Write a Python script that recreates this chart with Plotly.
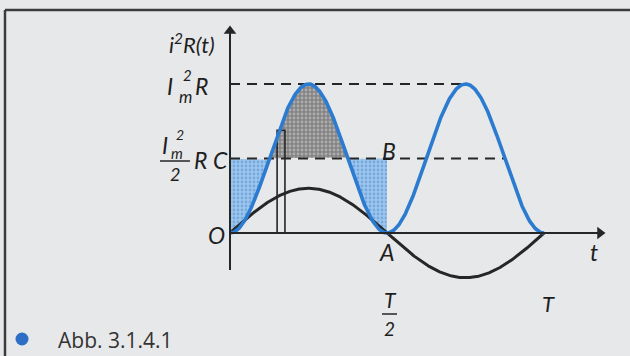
import numpy as np
import plotly.graph_objects as go

# Instantaneous power in a resistor, p(t) = i^2 R = I_m^2 R sin^2(wt)
T = 1.0                 # period of the current
P_PEAK = 1.0            # I_m^2 R
P_MEAN = P_PEAK / 2     # I_m^2 R / 2 (line C-B)
I_AMP = 0.3             # drawn amplitude of the current i(t)
STRIP = [0.15, 0.175]   # narrow strip p(t) dt
STRIP_H = 0.69

t = np.linspace(0, T, 600)
power = P_PEAK * np.sin(2 * np.pi * t / T) ** 2
current = I_AMP * np.sin(2 * np.pi * t / T)

# canvas: map pixels <-> data so that O sits at (230, 233)
W, H = 630, 356
X0, XS = 230, 314       # px of t=0, px per period
Y0, YS = 233, 149       # px of p=0, px per unit


def px_x(p):
    return (p - X0) / XS


def px_y(p):
    return (Y0 - p) / YS


BLUE = "#2b7bd0"
INK = "#262626"
BG = "#e7e8ea"
FONT = "Lato"

fig = go.Figure()

# blue dotted regions under the mean line, grey one above it
q = T / 8
m1 = t <= q
m2 = (t >= 3 * q) & (t <= T / 2)
m3 = (t >= q) & (t <= 3 * q)
blue_pat = dict(shape=".", bgcolor="#9ec6ec", fgcolor="#4a8ad0", size=4, solidity=0.4)
gray_pat = dict(shape=".", bgcolor="#848484", fgcolor="#d6d6d6", size=4, solidity=0.4)

fig.add_trace(go.Scatter(
    x=np.concatenate([[0], t[m1]]), y=np.concatenate([[P_MEAN], power[m1]]),
    fill="toself", fillpattern=blue_pat, fillcolor="#9ec6ec", line=dict(width=0),
    mode="lines", hoverinfo="skip", showlegend=False))
fig.add_trace(go.Scatter(
    x=np.concatenate([t[m2], [T / 2]]), y=np.concatenate([power[m2], [P_MEAN]]),
    fill="toself", fillpattern=blue_pat, fillcolor="#9ec6ec", line=dict(width=0),
    mode="lines", hoverinfo="skip", showlegend=False))
fig.add_trace(go.Scatter(
    x=t[m3], y=power[m3],
    fill="toself", fillpattern=gray_pat, fillcolor="#848484", line=dict(width=0),
    mode="lines", hoverinfo="skip", showlegend=False))

# dashed reference lines from the axis to the curve
fig.add_trace(go.Scatter(x=[0, 0.75 * T], y=[P_PEAK, P_PEAK], mode="lines",
                         line=dict(color=INK, width=2, dash="10px,7px"),
                         hoverinfo="skip", showlegend=False))
fig.add_trace(go.Scatter(x=[0, 0.875 * T], y=[P_MEAN, P_MEAN], mode="lines",
                         line=dict(color=INK, width=2, dash="10px,7px"),
                         hoverinfo="skip", showlegend=False))

# strip
fig.add_trace(go.Scatter(x=[STRIP[0], STRIP[0], STRIP[1], STRIP[1]],
                         y=[0, STRIP_H, STRIP_H, 0], mode="lines",
                         line=dict(color=INK, width=1.6),
                         hoverinfo="skip", showlegend=False))

# curves
fig.add_trace(go.Scatter(x=t, y=current, mode="lines",
                         line=dict(color=INK, width=3), hoverinfo="skip", showlegend=False))
fig.add_trace(go.Scatter(x=t, y=power, mode="lines",
                         line=dict(color=BLUE, width=3.6), hoverinfo="skip", showlegend=False))

# axes: shafts and arrowheads
fig.add_trace(go.Scatter(x=[0, 0], y=[px_y(270), px_y(32)], mode="lines",
                         line=dict(color=INK, width=2), hoverinfo="skip", showlegend=False))
fig.add_trace(go.Scatter(x=[0, px_x(598)], y=[0, 0], mode="lines",
                         line=dict(color=INK, width=2), hoverinfo="skip", showlegend=False))
fig.add_trace(go.Scatter(x=[0], y=[px_y(31)], mode="markers",
                         marker=dict(symbol="triangle-up", size=11, color=INK),
                         hoverinfo="skip", showlegend=False))
fig.add_trace(go.Scatter(x=[px_x(600)], y=[0], mode="markers",
                         marker=dict(symbol="triangle-right", size=11, color=INK),
                         hoverinfo="skip", showlegend=False))

# caption bullet
fig.add_trace(go.Scatter(x=[px_x(22)], y=[px_y(339)], mode="markers",
                         marker=dict(color="#2c6fc4", size=13), hoverinfo="skip",
                         showlegend=False))

ann = []


def label(text, x, y, size=23, xanchor="center", yanchor="middle", italic=True,
          color="#1e1e1e", family=FONT):
    ann.append(dict(x=x, y=y, xref="x", yref="y", text=text, showarrow=False,
                    xanchor=xanchor, yanchor=yanchor,
                    font=dict(family=family, size=size, color=color,
                              style="italic" if italic else "normal")))


label("i<sup>2</sup>R(t)", px_x(217), px_y(43), size=22, xanchor="right")
# I_m^2 R
label("I", px_x(170), px_y(86))
label("2", px_x(187), px_y(75), size=15)
label("m", px_x(185), px_y(96), size=17)
label("R", px_x(201), px_y(86))
# I_m^2 / 2 R C
label("I", px_x(165), px_y(145))
label("2", px_x(180), px_y(134), size=14)
label("m", px_x(177), px_y(153), size=15)
label("2", px_x(175), px_y(174), size=18)
label("R", px_x(200), px_y(160))
label("C", px_x(220), px_y(160))
label("O", px_x(216), px_y(235))
label("A", T / 2, px_y(252))
label("B", px_x(389), px_y(151))
label("t", px_x(594), px_y(252))
label("T", px_x(390), px_y(314), size=21, yanchor="bottom")
label("2", px_x(389), px_y(315), size=19, yanchor="top")
label("T", px_x(548), px_y(303), size=22)
label("Abb. 3.1.4.1", px_x(56), px_y(340), size=21, xanchor="left", italic=False,
      color="#333333", family="Open Sans")

shapes = [
    # fraction bars
    dict(type="line", xref="x", yref="y", x0=px_x(160), x1=px_x(190),
         y0=px_y(161), y1=px_y(161), line=dict(color=INK, width=1.5)),
    dict(type="line", xref="x", yref="y", x0=px_x(382), x1=px_x(397),
         y0=px_y(314), y1=px_y(314), line=dict(color=INK, width=1.5)),
    # frame
    dict(type="line", xref="paper", yref="paper", x0=5 / W, x1=1.0,
         y0=1 - 10 / H, y1=1 - 10 / H, line=dict(color="#3c3c3c", width=2.5)),
    dict(type="line", xref="paper", yref="paper", x0=5 / W, x1=5 / W,
         y0=0, y1=1 - 10 / H, line=dict(color="#3c3c3c", width=2.5)),
]

fig.update_layout(
    width=W, height=H, margin=dict(l=0, r=0, t=0, b=0),
    paper_bgcolor=BG, plot_bgcolor=BG,
    xaxis=dict(range=[px_x(0), px_x(W)], visible=False, fixedrange=True),
    yaxis=dict(range=[px_y(H), px_y(0)], visible=False, fixedrange=True),
    annotations=ann, shapes=shapes, showlegend=False,
)

fig.write_html("out.html", config={"displayModeBar": False})
